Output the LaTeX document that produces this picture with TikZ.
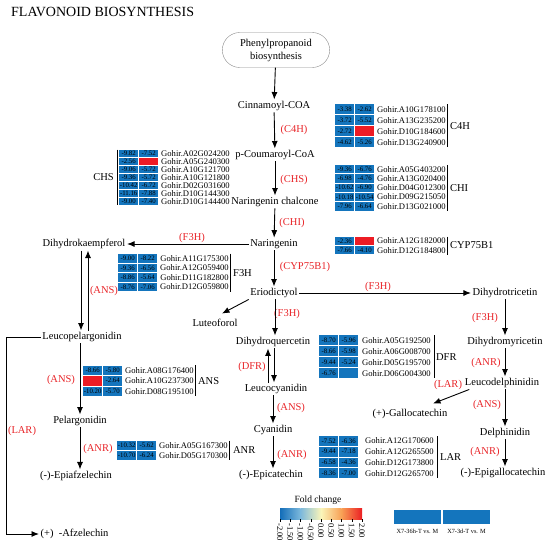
\documentclass[tikz,border=0pt]{standalone}
\usepackage{fontspec}
\setmainfont{Liberation Serif}
\usetikzlibrary{
  arrows.meta,
  shapes.misc,
  matrix,
  positioning
}
\definecolor{cellblue}{RGB}{20,117,189}
\definecolor{cellred}{RGB}{237,28,36}
\definecolor{enzred}{RGB}{232,36,40}
\definecolor{fcA}{RGB}{20,110,185}
\definecolor{fcB}{RGB}{125,185,220}
\definecolor{fcC}{RGB}{250,245,185}
\definecolor{fcD}{RGB}{248,160,85}
\definecolor{fcE}{RGB}{235,30,35}

\begin{document}
\begin{tikzpicture}[x=1pt,y=-1pt,
      metab/.style={
         inner sep=1.5pt,
         font=\fontsize{10.5}{12}\selectfont
      },
      enzyme/.style={
         inner sep=0pt,
         text=enzred,
         font=\fontsize{10.5}{12}\selectfont
      },
      source/.style={
         rounded rectangle,
         draw=black!45,
         minimum width=114pt,
         minimum height=35pt,
         align=center,
         font=\fontsize{10.5}{13}\selectfont
      },
      cell/.style={fill=cellblue,minimum width=19pt,font=\fontsize{6.8}{7}\selectfont},
      up/.style={fill=cellred},
      gene/.style={font=\fontsize{8.6}{9}\selectfont},
      heatmap/.style={
         matrix of nodes,
         nodes in empty cells,
         anchor=north west,
         inner sep=0pt,
         column sep=1pt,
         row sep=1pt,
         nodes={inner sep=0pt,anchor=center,minimum height=#1},
         column 1/.style={nodes={cell}},
         column 2/.style={nodes={cell}},
         column 3/.style={nodes={gene}}
      },
      brk/.style={line width=0.8pt},
      tablab/.style={inner sep=0pt,font=\fontsize{10.5}{12}\selectfont},
      legbox/.style={fill=cellblue,minimum width=47pt,minimum height=14pt,inner sep=0pt},
      small/.style={inner sep=0pt,font=\fontsize{6.3}{7}\selectfont},
      point/.style={coordinate},
      >={Latex[length=7.5pt,width=6pt]},
      tip/.style={->,line width=0.9pt}
    ]
    \useasboundingbox (0,0) rectangle (550,546);
    \node[anchor=west,inner sep=0pt,font=\fontsize{14}{16}\selectfont] (title) at (11,12) {FLAVONOID BIOSYNTHESIS};

    % main chain
    \node[source] (phen) at (276,50) {Phenylpropanoid\\biosynthesis};
    \node[metab] (cinn)   at (274,106) {Cinnamoyl-COA};
    \node[metab] (pcou)   at (275,155) {p-Coumaroyl-CoA};
    \node[metab] (narc)   at (275,202) {Naringenin chalcone};
    \node[metab] (nar)    at (274,244) {Naringenin};
    \node[metab] (erio)   at (274,293) {Eriodictyol};
    \node[metab] (luteo)  at (215,323) {Luteoforol};
    \node[metab] (dhq)    at (273,342) {Dihydroquercetin};
    \node[metab] (leucy)  at (276,389) {Leucocyanidin};
    \node[metab] (cyan)   at (273,430) {Cyanidin};
    \node[metab] (epicat) at (271,475) {(-)-Epicatechin};
    % left branch
    \node[metab] (dhk)    at (84,244) {Dihydrokaempferol};
    \node[metab] (leucp)  at (82,337) {Leucopelargonidin};
    \node[metab] (pelarg) at (80,421) {Pelargonidin};
    \node[metab] (epiaf)  at (76,476) {(-)-Epiafzelechin};
    \node[metab,anchor=west] (afz) at (39,534) {(+)\ \ -Afzelechin};
    % right branch
    \node[metab] (dht)    at (505,293) {Dihydrotricetin};
    \node[metab] (dhm)    at (505,342) {Dihydromyricetin};
    \node[metab] (leud)   at (502,383) {Leucodelphinidin};
    \node[metab] (delph)  at (505,433) {Delphinidin};
    \node[metab] (epigc)  at (503,473) {(-)-Epigallocatechin};
    \node[metab] (galloc) at (410,414) {(+)-Gallocatechin};

    % enzymes
    \node[enzyme] (e-c4h)  at (294,130) {(C4H)};
    \node[enzyme] (e-chs)  at (294,180) {(CHS)};
    \node[enzyme] (e-chi)  at (292,223) {(CHI)};
    \node[enzyme] (e-cyp)  at (305,267) {(CYP75B1)};
    \node[enzyme] (e-f3hl) at (192,238) {(F3H)};
    \node[enzyme] (e-f3hc) at (287,314) {(F3H)};
    \node[enzyme] (e-f3ht) at (378,287) {(F3H)};
    \node[enzyme] (e-f3hr) at (485,318) {(F3H)};
    \node[enzyme] (e-dfr)  at (252,367) {(DFR)};
    \node[enzyme] (e-ansc) at (291,408) {(ANS)};
    \node[enzyme] (e-anrc) at (292,455) {(ANR)};
    \node[enzyme] (e-anr1) at (486,363) {(ANR)};
    \node[enzyme] (e-larr) at (448,385) {(LAR)};
    \node[enzyme] (e-ansr) at (487,405) {(ANS)};
    \node[enzyme] (e-anr2) at (485,452) {(ANR)};
    \node[enzyme] (e-ans1) at (104,291) {(ANS)};
    \node[enzyme] (e-ans2) at (61,380) {(ANS)};
    \node[enzyme] (e-anrl) at (98,449) {(ANR)};
    \node[enzyme] (e-larl) at (22,431) {(LAR)};

    % arrows
    \draw[tip] (phen) -- (cinn);
    \draw[tip] (cinn) -- (pcou);
    \draw[tip] (pcou) -- (narc);
    \draw[tip] (narc) -- (nar);
    \draw[tip] (nar) -- (erio);
    \draw[tip] (nar) -- (dhk);
    \draw[tip] (erio.south west) -- ([shift={(7,-4)}]luteo.north);
    \draw[tip] (erio) -- (dht);
    \draw[tip] ([xshift=1pt]erio.south) -- ([xshift=1pt]erio.south |- dhq.north);
    \draw[tip] ([xshift=1pt]dhq.south) -- ([xshift=1pt]dhq.south |- leucy.north);
    \draw[tip] ([xshift=-5pt]dhq.south |- leucy.north) -- ([xshift=-5pt]dhq.south);
    \draw[tip] (cyan |- leucy.south) -- (cyan);
    \draw[tip] (cyan) -- (cyan |- epicat.north);
    \draw[tip] ([xshift=-3pt]dhk.south) -- ([xshift=-3pt]dhk.south |- leucp.north);
    \draw[tip] ([xshift=4pt]dhk.south |- leucp.north) -- ([xshift=4pt]dhk.south);
    \draw[tip] (pelarg |- leucp.south) -- (pelarg);
    \draw[tip] (pelarg) -- (pelarg |- epiaf.north);
    \draw[tip] (leucp.west) -- ++(-34,0) |- (afz.west);
    \draw[tip] (dht) -- (dhm);
    \draw[tip] (dhm) -- (dhm |- leud.north);
    \draw[tip] (dhm |- leud.south) -- (delph);
    \draw[tip] (delph) -- (delph |- epigc.north);
    \draw[tip] ([xshift=6pt]leud.south west) -- ([shift={(23,-4)}]galloc.north);

    % heat maps
    \matrix[heatmap=10pt] (c4htab) at (335,104) {
      -3.38 & -2.62 &[2pt] Gohir.A10G178100 \\
      -3.72 & -5.52 & Gohir.A13G235200 \\
      -2.72 & |[up]| & Gohir.D10G184600 \\
      -4.62 & -5.26 & Gohir.D13G240900 \\
    };
    \draw[brk] ([xshift=1.5pt]c4htab.north east) -- ([xshift=1.5pt]c4htab.south east);
    \node[tablab,right=4pt of c4htab] (c4hlab) {C4H};

    \matrix[heatmap=8.3pt] (chitab) at (335,164.8) {
      -9.36 & -6.76 &[2pt] Gohir.A05G403200 \\
      -6.98 & -4.76 & Gohir.A13G020400 \\
      -10.62 & -6.90 & Gohir.D04G012300 \\
      -10.18 & -10.54 & Gohir.D09G215050 \\
      -7.96 & -6.64 & Gohir.D13G021000 \\
    };
    \draw[brk] ([xshift=1.5pt]chitab.north east) -- ([xshift=1.5pt]chitab.south east);
    \node[tablab,right=4pt of chitab] (chilab) {CHI};

    \matrix[heatmap=8.3pt] (cyptab) at (335,236.5) {
      -2.36 & |[up]| &[2pt] Gohir.A12G182000 \\
      -7.66 & -4.10 & Gohir.D12G184800 \\
    };
    \draw[brk] ([xshift=1.5pt]cyptab.north east) -- ([xshift=1.5pt]cyptab.south east);
    \node[tablab,right=4pt of cyptab] (cyplab) {CYP75B1};

    \matrix[heatmap=7pt] (chstab) at (119,149.5) {
      -9.82 & -7.52 &[2pt] Gohir.A02G024200 \\
      -2.56 & |[up]| & Gohir.A05G240300 \\
      -9.06 & -5.72 & Gohir.A10G121700 \\
      -9.36 & -5.72 & Gohir.A10G121800 \\
      -10.42 & -6.72 & Gohir.D02G031600 \\
      -11.16 & -7.88 & Gohir.D10G144300 \\
      -9.00 & -7.40 & Gohir.D10G144400 \\
    };
    \draw[brk] ([xshift=-2pt]chstab.north west) -- ([xshift=-2pt]chstab.south west);
    \node[tablab,left=5pt of chstab] (chslab) {CHS};

    \matrix[heatmap=8.6pt] (f3htab) at (118,253.7) {
      -9.00 & -8.22 &[2pt] Gohir.A11G175300 \\
      -9.36 & -6.56 & Gohir.A12G059400 \\
      -8.86 & -5.64 & Gohir.D11G182800 \\
      -8.76 & -7.06 & Gohir.D12G059800 \\
    };
    \draw[brk] ([xshift=1.5pt]f3htab.north east) -- ([xshift=1.5pt]f3htab.south east);
    \node[tablab,right=4pt of f3htab] (f3hlab) {F3H};

    \matrix[heatmap=9.5pt] (anstab) at (83,365.3) {
      -8.66 & -5.80 &[2pt] Gohir.A08G176400 \\
      |[up]| & -2.64 & Gohir.A10G237300 \\
      -10.20 & -5.70 & Gohir.D08G195100 \\
    };
    \draw[brk] ([xshift=1.5pt]anstab.north east) -- ([xshift=1.5pt]anstab.south east);
    \node[tablab,right=4pt of anstab] (anslab) {ANS};

    \matrix[heatmap=9pt] (anrtab) at (117,440.5) {
      -10.32 & -5.62 &[2pt] Gohir.A05G167300 \\
      -10.70 & -6.24 & Gohir.D05G170300 \\
    };
    \draw[brk] ([xshift=1.5pt]anrtab.north east) -- ([xshift=1.5pt]anrtab.south east);
    \node[tablab,right=5pt of anrtab] (anrlab) {ANR};

    \matrix[heatmap=10pt] (dfrtab) at (319,335) {
      -8.70 & -5.96 &[3pt] Gohir.A05G192500 \\
      -8.66 & -5.98 & Gohir.A06G008700 \\
      -9.44 & -5.24 & Gohir.D05G195700 \\
      -6.76 & & Gohir.D06G004300 \\
    };
    \draw[brk] ([xshift=3pt]dfrtab.north east) -- ([xshift=3pt]dfrtab.south east);
    \node[tablab,right=5pt of dfrtab] (dfrlab) {DFR};

    \matrix[heatmap=9.7pt] (lartab) at (319,436) {
      -7.52 & -6.36 &[6pt] Gohir.A12G170600 \\
      -9.44 & -7.18 & Gohir.A12G265500 \\
      -6.58 & -4.36 & Gohir.D12G173800 \\
      -8.36 & -7.00 & Gohir.D12G265700 \\
    };
    \draw[brk] ([xshift=3pt]lartab.north east) -- ([xshift=3pt]lartab.south east);
    \node[tablab,right=6pt of lartab] (larlab) {LAR};

    % fold change scale
    \node[inner sep=0pt,font=\fontsize{9.5}{11}\selectfont] (fold) at (318,500) {Fold change};
    \shade[left color=fcA,right color=fcB] (280,508) rectangle (300.5,519);
    \shade[left color=fcB,right color=fcC] (300.5,508) rectangle (321,519);
    \shade[left color=fcC,right color=fcD] (321,508) rectangle (341.5,519);
    \shade[left color=fcD,right color=fcE] (341.5,508) rectangle (362,519);
    \foreach \v [count=\i] in {-2.00,-1.50,-1.00,-0.50,0.00,0.50,1.00,1.50,2.00} {
      \draw[line width=0.5pt] ({280+(\i-1)*10.25},519) -- ({280+(\i-1)*10.25},522);
      \node[inner sep=0pt,anchor=west,rotate=-90,font=\fontsize{8.5}{9}\selectfont] (tick\i)
        at ({280+(\i-1)*10.25},523) {\v};
    }
    \node[legbox] (leg1) at (417.5,517) {};
    \node[legbox] (leg2) at (466.5,517) {};
    \node[small] (leg1lab) at (417.5,531) {X7-36h-T vs. M};
    \node[small] (leg2lab) at (466.5,531) {X7-3d-T vs. M};
\end{tikzpicture}
\end{document}
